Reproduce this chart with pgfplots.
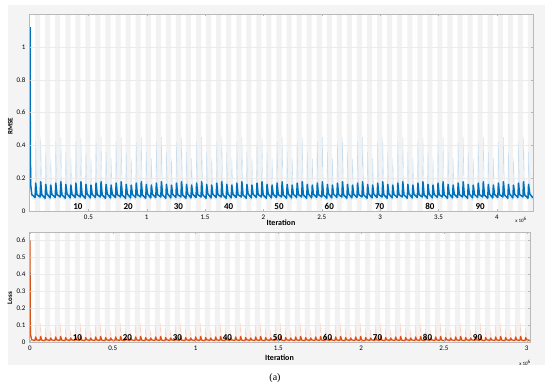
\documentclass[border=0pt]{standalone}
\usepackage{fontspec}
\setmainfont{Carlito}
\newfontfamily\capfont{Liberation Serif}
\usepackage{pgfplots}
\usepackage{pgfplotstable}
\pgfplotsset{compat=1.18}
\definecolor{mblue}{RGB}{0,114,189}
\definecolor{lblue}{RGB}{198,222,240}
\definecolor{morange}{RGB}{217,83,25}
\definecolor{lorange}{RGB}{249,212,195}
\pgfplotstableread[row sep=\\]{e h\\0 0\\1 2\\2 0\\3 2\\4 0\\5 2\\6 0\\7 2\\8 0\\9 2\\10 0\\11 2\\12 0\\13 2\\14 0\\15 2\\16 0\\17 2\\18 0\\19 2\\20 0\\21 2\\22 0\\23 2\\24 0\\25 2\\26 0\\27 2\\28 0\\29 2\\30 0\\31 2\\32 0\\33 2\\34 0\\35 2\\36 0\\37 2\\38 0\\39 2\\40 0\\41 2\\42 0\\43 2\\44 0\\45 2\\46 0\\47 2\\48 0\\49 2\\50 0\\51 2\\52 0\\53 2\\54 0\\55 2\\56 0\\57 2\\58 0\\59 2\\60 0\\61 2\\62 0\\63 2\\64 0\\65 2\\66 0\\67 2\\68 0\\69 2\\70 0\\71 2\\72 0\\73 2\\74 0\\75 2\\76 0\\77 2\\78 0\\79 2\\80 0\\81 2\\82 0\\83 2\\84 0\\85 2\\86 0\\87 2\\88 0\\89 2\\90 0\\91 2\\92 0\\93 2\\94 0\\95 2\\96 0\\97 2\\98 0\\99 2\\100 0\\}\bands
\pgfplotstableread{
e r rr l lr
0 1.12 1.12 0.6 0.62
0.05 0.4 0.5 0.15 0.25
0.12 0.16 0.4 0.04 0.1
0.35 0.1 0.08 0.013 0.006
1 0.082 0.07 0.009 0.004
1.12 0.17 0.42 0.03 0.1
1.35 0.1 0.08 0.012 0.006
2 0.085 0.072 0.01 0.004
2.12 0.178 0.45 0.033 0.11
2.35 0.098 0.078 0.011 0.005
3 0.078 0.068 0.008 0.005
3.12 0.162 0.36 0.026 0.08
3.35 0.104 0.085 0.013 0.007
4 0.08 0.066 0.009 0.006
4.12 0.158 0.32 0.024 0.07
4.35 0.102 0.082 0.012 0.006
5 0.082 0.07 0.009 0.004
5.12 0.17 0.42 0.03 0.1
5.35 0.1 0.08 0.012 0.006
6 0.085 0.072 0.01 0.004
6.12 0.178 0.45 0.033 0.11
6.35 0.098 0.078 0.011 0.005
7 0.078 0.068 0.008 0.005
7.12 0.162 0.36 0.026 0.08
7.35 0.104 0.085 0.013 0.007
8 0.08 0.066 0.009 0.006
8.12 0.158 0.32 0.024 0.07
8.35 0.102 0.082 0.012 0.006
9 0.082 0.07 0.009 0.004
9.12 0.17 0.42 0.03 0.1
9.35 0.1 0.08 0.012 0.006
10 0.085 0.072 0.01 0.004
10.12 0.178 0.45 0.033 0.11
10.35 0.098 0.078 0.011 0.005
11 0.078 0.068 0.008 0.005
11.12 0.162 0.36 0.026 0.08
11.35 0.104 0.085 0.013 0.007
12 0.08 0.066 0.009 0.006
12.12 0.158 0.32 0.024 0.07
12.35 0.102 0.082 0.012 0.006
13 0.082 0.07 0.009 0.004
13.12 0.17 0.42 0.03 0.1
13.35 0.1 0.08 0.012 0.006
14 0.085 0.072 0.01 0.004
14.12 0.178 0.45 0.033 0.11
14.35 0.098 0.078 0.011 0.005
15 0.078 0.068 0.008 0.005
15.12 0.162 0.36 0.026 0.08
15.35 0.104 0.085 0.013 0.007
16 0.08 0.066 0.009 0.006
16.12 0.158 0.32 0.024 0.07
16.35 0.102 0.082 0.012 0.006
17 0.082 0.07 0.009 0.004
17.12 0.17 0.42 0.03 0.1
17.35 0.1 0.08 0.012 0.006
18 0.085 0.072 0.01 0.004
18.12 0.178 0.45 0.033 0.11
18.35 0.098 0.078 0.011 0.005
19 0.078 0.068 0.008 0.005
19.12 0.162 0.36 0.026 0.08
19.35 0.104 0.085 0.013 0.007
20 0.08 0.066 0.009 0.006
20.12 0.158 0.32 0.024 0.07
20.35 0.102 0.082 0.012 0.006
21 0.082 0.07 0.009 0.004
21.12 0.17 0.42 0.03 0.1
21.35 0.1 0.08 0.012 0.006
22 0.085 0.072 0.01 0.004
22.12 0.178 0.45 0.033 0.11
22.35 0.098 0.078 0.011 0.005
23 0.078 0.068 0.008 0.005
23.12 0.162 0.36 0.026 0.08
23.35 0.104 0.085 0.013 0.007
24 0.08 0.066 0.009 0.006
24.12 0.158 0.32 0.024 0.07
24.35 0.102 0.082 0.012 0.006
25 0.082 0.07 0.009 0.004
25.12 0.17 0.42 0.03 0.1
25.35 0.1 0.08 0.012 0.006
26 0.085 0.072 0.01 0.004
26.12 0.178 0.45 0.033 0.11
26.35 0.098 0.078 0.011 0.005
27 0.078 0.068 0.008 0.005
27.12 0.162 0.36 0.026 0.08
27.35 0.104 0.085 0.013 0.007
28 0.08 0.066 0.009 0.006
28.12 0.158 0.32 0.024 0.07
28.35 0.102 0.082 0.012 0.006
29 0.082 0.07 0.009 0.004
29.12 0.17 0.42 0.03 0.1
29.35 0.1 0.08 0.012 0.006
30 0.085 0.072 0.01 0.004
30.12 0.178 0.45 0.033 0.11
30.35 0.098 0.078 0.011 0.005
31 0.078 0.068 0.008 0.005
31.12 0.162 0.36 0.026 0.08
31.35 0.104 0.085 0.013 0.007
32 0.08 0.066 0.009 0.006
32.12 0.158 0.32 0.024 0.07
32.35 0.102 0.082 0.012 0.006
33 0.082 0.07 0.009 0.004
33.12 0.17 0.42 0.03 0.1
33.35 0.1 0.08 0.012 0.006
34 0.085 0.072 0.01 0.004
34.12 0.178 0.45 0.033 0.11
34.35 0.098 0.078 0.011 0.005
35 0.078 0.068 0.008 0.005
35.12 0.162 0.36 0.026 0.08
35.35 0.104 0.085 0.013 0.007
36 0.08 0.066 0.009 0.006
36.12 0.158 0.32 0.024 0.07
36.35 0.102 0.082 0.012 0.006
37 0.082 0.07 0.009 0.004
37.12 0.17 0.42 0.03 0.1
37.35 0.1 0.08 0.012 0.006
38 0.085 0.072 0.01 0.004
38.12 0.178 0.45 0.033 0.11
38.35 0.098 0.078 0.011 0.005
39 0.078 0.068 0.008 0.005
39.12 0.162 0.36 0.026 0.08
39.35 0.104 0.085 0.013 0.007
40 0.08 0.066 0.009 0.006
40.12 0.158 0.32 0.024 0.07
40.35 0.102 0.082 0.012 0.006
41 0.082 0.07 0.009 0.004
41.12 0.17 0.42 0.03 0.1
41.35 0.1 0.08 0.012 0.006
42 0.085 0.072 0.01 0.004
42.12 0.178 0.45 0.033 0.11
42.35 0.098 0.078 0.011 0.005
43 0.078 0.068 0.008 0.005
43.12 0.162 0.36 0.026 0.08
43.35 0.104 0.085 0.013 0.007
44 0.08 0.066 0.009 0.006
44.12 0.158 0.32 0.024 0.07
44.35 0.102 0.082 0.012 0.006
45 0.082 0.07 0.009 0.004
45.12 0.17 0.42 0.03 0.1
45.35 0.1 0.08 0.012 0.006
46 0.085 0.072 0.01 0.004
46.12 0.178 0.45 0.033 0.11
46.35 0.098 0.078 0.011 0.005
47 0.078 0.068 0.008 0.005
47.12 0.162 0.36 0.026 0.08
47.35 0.104 0.085 0.013 0.007
48 0.08 0.066 0.009 0.006
48.12 0.158 0.32 0.024 0.07
48.35 0.102 0.082 0.012 0.006
49 0.082 0.07 0.009 0.004
49.12 0.17 0.42 0.03 0.1
49.35 0.1 0.08 0.012 0.006
50 0.085 0.072 0.01 0.004
50.12 0.178 0.45 0.033 0.11
50.35 0.098 0.078 0.011 0.005
51 0.078 0.068 0.008 0.005
51.12 0.162 0.36 0.026 0.08
51.35 0.104 0.085 0.013 0.007
52 0.08 0.066 0.009 0.006
52.12 0.158 0.32 0.024 0.07
52.35 0.102 0.082 0.012 0.006
53 0.082 0.07 0.009 0.004
53.12 0.17 0.42 0.03 0.1
53.35 0.1 0.08 0.012 0.006
54 0.085 0.072 0.01 0.004
54.12 0.178 0.45 0.033 0.11
54.35 0.098 0.078 0.011 0.005
55 0.078 0.068 0.008 0.005
55.12 0.162 0.36 0.026 0.08
55.35 0.104 0.085 0.013 0.007
56 0.08 0.066 0.009 0.006
56.12 0.158 0.32 0.024 0.07
56.35 0.102 0.082 0.012 0.006
57 0.082 0.07 0.009 0.004
57.12 0.17 0.42 0.03 0.1
57.35 0.1 0.08 0.012 0.006
58 0.085 0.072 0.01 0.004
58.12 0.178 0.45 0.033 0.11
58.35 0.098 0.078 0.011 0.005
59 0.078 0.068 0.008 0.005
59.12 0.162 0.36 0.026 0.08
59.35 0.104 0.085 0.013 0.007
60 0.08 0.066 0.009 0.006
60.12 0.158 0.32 0.024 0.07
60.35 0.102 0.082 0.012 0.006
61 0.082 0.07 0.009 0.004
61.12 0.17 0.42 0.03 0.1
61.35 0.1 0.08 0.012 0.006
62 0.085 0.072 0.01 0.004
62.12 0.178 0.45 0.033 0.11
62.35 0.098 0.078 0.011 0.005
63 0.078 0.068 0.008 0.005
63.12 0.162 0.36 0.026 0.08
63.35 0.104 0.085 0.013 0.007
64 0.08 0.066 0.009 0.006
64.12 0.158 0.32 0.024 0.07
64.35 0.102 0.082 0.012 0.006
65 0.082 0.07 0.009 0.004
65.12 0.17 0.42 0.03 0.1
65.35 0.1 0.08 0.012 0.006
66 0.085 0.072 0.01 0.004
66.12 0.178 0.45 0.033 0.11
66.35 0.098 0.078 0.011 0.005
67 0.078 0.068 0.008 0.005
67.12 0.162 0.36 0.026 0.08
67.35 0.104 0.085 0.013 0.007
68 0.08 0.066 0.009 0.006
68.12 0.158 0.32 0.024 0.07
68.35 0.102 0.082 0.012 0.006
69 0.082 0.07 0.009 0.004
69.12 0.17 0.42 0.03 0.1
69.35 0.1 0.08 0.012 0.006
70 0.085 0.072 0.01 0.004
70.12 0.178 0.45 0.033 0.11
70.35 0.098 0.078 0.011 0.005
71 0.078 0.068 0.008 0.005
71.12 0.162 0.36 0.026 0.08
71.35 0.104 0.085 0.013 0.007
72 0.08 0.066 0.009 0.006
72.12 0.158 0.32 0.024 0.07
72.35 0.102 0.082 0.012 0.006
73 0.082 0.07 0.009 0.004
73.12 0.17 0.42 0.03 0.1
73.35 0.1 0.08 0.012 0.006
74 0.085 0.072 0.01 0.004
74.12 0.178 0.45 0.033 0.11
74.35 0.098 0.078 0.011 0.005
75 0.078 0.068 0.008 0.005
75.12 0.162 0.36 0.026 0.08
75.35 0.104 0.085 0.013 0.007
76 0.08 0.066 0.009 0.006
76.12 0.158 0.32 0.024 0.07
76.35 0.102 0.082 0.012 0.006
77 0.082 0.07 0.009 0.004
77.12 0.17 0.42 0.03 0.1
77.35 0.1 0.08 0.012 0.006
78 0.085 0.072 0.01 0.004
78.12 0.178 0.45 0.033 0.11
78.35 0.098 0.078 0.011 0.005
79 0.078 0.068 0.008 0.005
79.12 0.162 0.36 0.026 0.08
79.35 0.104 0.085 0.013 0.007
80 0.08 0.066 0.009 0.006
80.12 0.158 0.32 0.024 0.07
80.35 0.102 0.082 0.012 0.006
81 0.082 0.07 0.009 0.004
81.12 0.17 0.42 0.03 0.1
81.35 0.1 0.08 0.012 0.006
82 0.085 0.072 0.01 0.004
82.12 0.178 0.45 0.033 0.11
82.35 0.098 0.078 0.011 0.005
83 0.078 0.068 0.008 0.005
83.12 0.162 0.36 0.026 0.08
83.35 0.104 0.085 0.013 0.007
84 0.08 0.066 0.009 0.006
84.12 0.158 0.32 0.024 0.07
84.35 0.102 0.082 0.012 0.006
85 0.082 0.07 0.009 0.004
85.12 0.17 0.42 0.03 0.1
85.35 0.1 0.08 0.012 0.006
86 0.085 0.072 0.01 0.004
86.12 0.178 0.45 0.033 0.11
86.35 0.098 0.078 0.011 0.005
87 0.078 0.068 0.008 0.005
87.12 0.162 0.36 0.026 0.08
87.35 0.104 0.085 0.013 0.007
88 0.08 0.066 0.009 0.006
88.12 0.158 0.32 0.024 0.07
88.35 0.102 0.082 0.012 0.006
89 0.082 0.07 0.009 0.004
89.12 0.17 0.42 0.03 0.1
89.35 0.1 0.08 0.012 0.006
90 0.085 0.072 0.01 0.004
90.12 0.178 0.45 0.033 0.11
90.35 0.098 0.078 0.011 0.005
91 0.078 0.068 0.008 0.005
91.12 0.162 0.36 0.026 0.08
91.35 0.104 0.085 0.013 0.007
92 0.08 0.066 0.009 0.006
92.12 0.158 0.32 0.024 0.07
92.35 0.102 0.082 0.012 0.006
93 0.082 0.07 0.009 0.004
93.12 0.17 0.42 0.03 0.1
93.35 0.1 0.08 0.012 0.006
94 0.085 0.072 0.01 0.004
94.12 0.178 0.45 0.033 0.11
94.35 0.098 0.078 0.011 0.005
95 0.078 0.068 0.008 0.005
95.12 0.162 0.36 0.026 0.08
95.35 0.104 0.085 0.013 0.007
96 0.08 0.066 0.009 0.006
96.12 0.158 0.32 0.024 0.07
96.35 0.102 0.082 0.012 0.006
97 0.082 0.07 0.009 0.004
97.12 0.17 0.42 0.03 0.1
97.35 0.1 0.08 0.012 0.006
98 0.085 0.072 0.01 0.004
98.12 0.178 0.45 0.033 0.11
98.35 0.098 0.078 0.011 0.005
99 0.078 0.068 0.008 0.005
99.12 0.162 0.36 0.026 0.08
99.35 0.104 0.085 0.013 0.007
100 0.08 0.07 0.009 0.004
}\data
\pgfplotsset{
  mstyle/.style={
    scale only axis,
    axis on top,
    axis line style={gray!55},
    tick style={gray!55},
    major tick length=2pt,
    tick align=inside,
    ymajorgrids,
    grid style={gray!16,line width=0.3pt},
    ticklabel style={font=\fontsize{7}{8}\selectfont},
    /pgf/number format/assume math mode=true,
    label style={font=\bfseries\fontsize{8}{9}\selectfont},
    clip=true,
    clip bounding box=upper bound,
  }
}
\begin{document}
\begin{tikzpicture}
\useasboundingbox (0pt,0pt) rectangle (550pt,391pt);
\fill[white] (0pt,0pt) rectangle (550pt,391pt);
\fill[gray!9] (8pt,26pt) rectangle (545pt,386pt);
% ---------- top: RMSE ----------
\begin{axis}[mstyle, at={(29pt,180pt)}, anchor=south west, width=504pt, height=197pt,
  xmin=-0.009, xmax=4.31, ymin=0, ymax=1.2,
  xtick={0.5,1,1.5,2,2.5,3,3.5,4},
  ytick={0,0.2,0.4,0.6,0.8,1},
  yticklabels={0,0.2,0.4,0.6,0.8,1},
  xlabel={Iteration}, xlabel style={at={(axis description cs:0.5,-0.061)},anchor=center},
  ylabel={RMSE}, ylabel style={at={(axis description cs:-0.037,0.43)},anchor=center,font=\bfseries\fontsize{7}{8}\selectfont},
  axis background/.style={fill=white}]
\addplot[ybar interval, fill=gray!10, draw=none] table[x expr=\thisrow{e}*0.0431, y expr=\thisrow{h}*0.6] {\bands};
\addplot[lblue, line width=0.35pt] table[x expr=\thisrow{e}*0.0431, y=rr] {\data};
\addplot[mblue, line width=1.5pt, line join=round] table[x expr=\thisrow{e}*0.0431, y=r] {\data};
\foreach \p/\t in {0.40945/10,0.84045/20,1.27145/30,1.70245/40,2.13345/50,2.56445/60,2.99545/70,3.42645/80,3.85745/90}{
  \edef\tmp{\noexpand\node[font=\noexpand\bfseries\noexpand\fontsize{9}{10}\noexpand\selectfont, anchor=south, inner sep=1.5pt] at (axis cs:\p,0) {\t};}\tmp
}
\end{axis}
% ---------- bottom: Loss ----------
\begin{axis}[mstyle, at={(29pt,49pt)}, anchor=south west, width=501pt, height=110pt,
  xmin=-0.006, xmax=3.02, ymin=0, ymax=0.65,
  xtick={0,0.5,1,1.5,2,2.5,3},
  ytick={0,0.1,0.2,0.3,0.4,0.5,0.6},
  yticklabels={0,0.1,0.2,0.3,0.4,0.5,0.6},
  xlabel={Iteration}, xlabel style={at={(axis description cs:0.5,-0.145)},anchor=center},
  ylabel={Loss}, ylabel style={at={(axis description cs:-0.038,0.4)},anchor=center,font=\bfseries\fontsize{7}{8}\selectfont},
  axis background/.style={fill=white}]
\addplot[ybar interval, fill=gray!10, draw=none] table[x expr=\thisrow{e}*0.0302, y expr=\thisrow{h}*0.325] {\bands};
\addplot[lorange, line width=0.35pt] table[x expr=\thisrow{e}*0.0302, y=lr] {\data};
\addplot[morange, line width=1.3pt, line join=round] table[x expr=\thisrow{e}*0.0302, y=l] {\data};
\foreach \p/\t in {0.2869/10,0.5889/20,0.8909/30,1.1929/40,1.4949/50,1.7969/60,2.0989/70,2.4009/80,2.7029/90}{
  \edef\tmp{\noexpand\node[font=\noexpand\bfseries\noexpand\fontsize{9}{10}\noexpand\selectfont, anchor=south, inner sep=1.5pt] at (axis cs:\p,0) {\t};}\tmp
}
\end{axis}
\node[font=\fontsize{5}{6}\selectfont] at (521pt,171pt) {x 10\textsuperscript{6}};
\node[font=\fontsize{5}{6}\selectfont] at (525pt,28pt) {x 10\textsuperscript{6}};
\node[font=\capfont\fontsize{10}{12}\selectfont] at (275pt,13pt) {(a)};
\end{tikzpicture}
\end{document}
